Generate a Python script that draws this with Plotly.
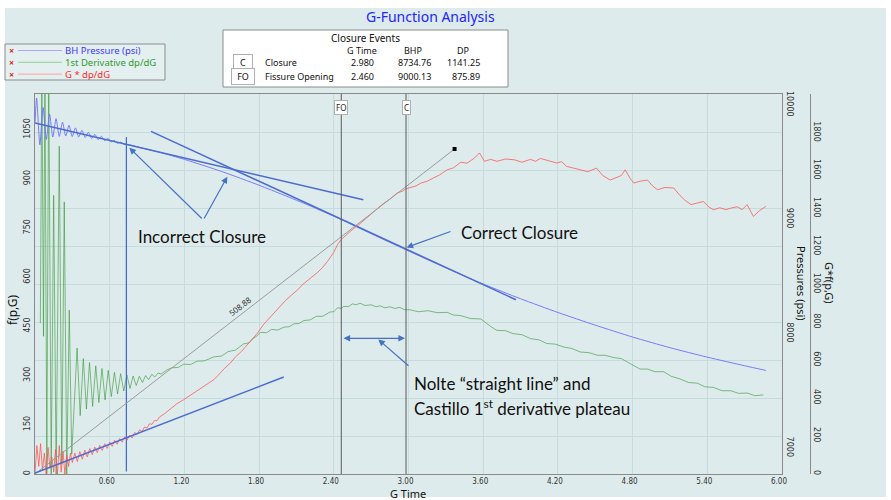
import plotly.graph_objects as go

# ---------------- data ----------------
# BH Pressure (psi) vs G time
bh_g = [0, 0.013, 0.039, 0.065, 0.091, 0.117, 0.143, 0.169, 0.195, 0.221, 0.247, 0.273, 0.299, 0.325,
        0.351, 0.377, 0.403, 0.429, 0.455, 0.481, 0.507, 0.533, 0.559, 0.585, 0.611, 0.637, 0.663, 0.689,
        0.715, 0.741, 0.85, 1.0, 1.2, 1.5, 1.8, 2.0, 2.2, 2.46, 2.7, 2.98, 3.3, 3.6, 3.9, 4.2, 4.5, 4.8,
        5.1, 5.4, 5.7, 5.87]
bh_p = [9847, 10063, 9653, 9979, 9701, 9922, 9722, 9883, 9727, 9851, 9731, 9825, 9726, 9802,
        9722, 9781, 9717, 9763, 9708, 9745, 9699, 9728, 9690, 9710, 9680, 9692, 9668, 9677,
        9658, 9657, 9628, 9588, 9526, 9420, 9300, 9213, 9124, 9000, 8876, 8735, 8577, 8436, 8307, 8187, 8076, 7972,
        7879, 7796, 7721, 7680]

# 1st derivative dp/dG  (left axis f(p,G))
d1_g = [0.043, 0.055, 0.068, 0.080, 0.095, 0.110, 0.130, 0.150, 0.170, 0.195, 0.215, 0.235, 0.255,
        0.275, 0.295,
        0.338, 0.363, 0.388, 0.413, 0.438, 0.463, 0.488, 0.513, 0.538, 0.563, 0.588, 0.613, 0.638, 0.663,
        0.688, 0.713, 0.738, 0.763, 0.788, 0.813, 0.838, 0.863, 0.888, 0.913, 0.938, 0.963, 0.988, 1.013, 1.061,
        1.10, 1.15, 1.194, 1.25, 1.30, 1.36, 1.435, 1.50, 1.55, 1.61, 1.676, 1.72, 1.75, 1.78, 1.81, 1.86,
        1.90, 1.95, 2.00, 2.04, 2.08, 2.12, 2.16, 2.21, 2.26, 2.31, 2.37, 2.40, 2.43, 2.46, 2.48, 2.52,
        2.55, 2.58, 2.61, 2.65, 2.70, 2.74, 2.77, 2.81, 2.85, 2.89, 2.93, 2.97, 3.01, 3.08, 3.16, 3.23,
        3.31, 3.36, 3.42, 3.50, 3.58, 3.62, 3.66, 3.71, 3.78, 3.84, 3.91, 3.98, 4.05, 4.11, 4.18, 4.25,
        4.31, 4.38, 4.45, 4.52, 4.58, 4.65, 4.71, 4.76, 4.81, 4.86, 4.92, 4.98, 5.05, 5.11, 5.18, 5.25,
        5.32, 5.38, 5.45, 5.52, 5.59, 5.65, 5.72, 5.78, 5.85]
d1_v = [460, 1250, 420, 1250, 0, 1250, 0, 850, 0, 1000, 30, 830, 0,
        500, 60,
        384, 178, 352, 198, 340, 206, 330, 218, 322, 226, 316, 236, 310, 244,
        306, 253, 302, 261, 299, 270, 298, 279, 300, 288, 304, 296, 308, 305, 318,
        324, 325, 335, 334, 344, 345, 357, 360, 373, 378, 397, 400, 413, 420, 432, 431,
        441, 439, 448, 449, 458, 459, 468, 470, 481, 481, 494, 495, 507, 505, 511, 511,
        519, 516, 521, 514, 516, 510, 513, 507, 510, 505, 508, 501, 501, 495, 498, 492,
        493, 485, 483, 474, 473, 460, 450, 438, 437, 428, 425, 413, 409, 398, 396, 387,
        383, 372, 370, 362, 362, 355, 352, 341, 330, 320, 320, 312, 312, 298, 290, 279,
        277, 266, 264, 254, 254, 246, 247, 239, 241]

# G * dp/dG  (right axis G*f(p,G))
gd_g = [0.0, 0.015, 0.03, 0.045, 0.06, 0.075, 0.09, 0.105, 0.12, 0.135, 0.15, 0.165, 0.18, 0.195, 0.21,
        0.225, 0.24, 0.255, 0.27, 0.285, 0.30,
        0.32, 0.34, 0.36, 0.38, 0.40, 0.42, 0.44, 0.46, 0.48, 0.50, 0.52, 0.54, 0.56, 0.58, 0.60, 0.62,
        0.64, 0.66, 0.68, 0.70, 0.72, 0.74, 0.76, 0.78, 0.80, 0.82, 0.84, 0.86, 0.88, 0.90, 0.92, 0.94,
        0.96, 0.98, 1.00,
        1.04, 1.07, 1.10, 1.14, 1.194, 1.23, 1.27, 1.31, 1.35, 1.39, 1.435, 1.47, 1.52, 1.57, 1.61, 1.66,
        1.704, 1.75, 1.784, 1.837, 1.88, 1.93, 1.97, 2.01, 2.06, 2.11, 2.15, 2.19, 2.23, 2.27, 2.31, 2.35,
        2.40, 2.43, 2.46, 2.50, 2.55, 2.60, 2.65, 2.70, 2.75, 2.80, 2.85, 2.91, 2.95, 2.98, 3.02, 3.06,
        3.10, 3.15, 3.20, 3.25, 3.31, 3.36, 3.42, 3.47, 3.53, 3.57, 3.61, 3.66, 3.71, 3.78, 3.85, 3.91,
        3.98, 4.02, 4.06, 4.12, 4.19, 4.23, 4.27, 4.32, 4.38, 4.44, 4.51, 4.56, 4.62, 4.67, 4.71, 4.74,
        4.78, 4.81, 4.86, 4.92, 4.96, 5.00, 5.06, 5.13, 5.18, 5.22, 5.27, 5.32, 5.37, 5.41, 5.45, 5.50,
        5.55, 5.59, 5.64, 5.68, 5.72, 5.77, 5.82, 5.87]
gd_v = [5, 150, 40, 160, 20, 110, 0, 140, 30, 90, 10, 130, 0, 150, 10,
        120, 0, 100, 40, 110, 60,
        110, 66, 118, 78, 126, 90, 134, 102, 142, 113, 151, 124, 160, 135, 169, 146,
        178, 157, 187, 168, 196, 179, 205, 190, 219, 209, 233, 225, 248, 243, 265, 262,
        282, 281, 301,
        318, 334, 348, 371, 392, 408, 428, 446, 462, 478, 497, 520, 556, 586, 618, 648,
        680, 712, 741, 790, 822, 855, 886, 914, 944, 972, 1000, 1020, 1042, 1064, 1090, 1122,
        1170, 1210, 1238, 1262, 1290, 1315, 1345, 1372, 1400, 1428, 1450, 1483, 1492, 1505, 1512, 1520,
        1535, 1545, 1562, 1578, 1605, 1615, 1645, 1640, 1667, 1694, 1650, 1660, 1650, 1662, 1658, 1645,
        1660, 1650, 1665, 1652, 1641, 1648, 1623, 1615, 1605, 1595, 1614, 1575, 1551, 1565, 1575, 1605,
        1560, 1535, 1545, 1551, 1520, 1500, 1512, 1509, 1470, 1445, 1421, 1430, 1438, 1410, 1394, 1405,
        1395, 1403, 1410, 1395, 1421, 1359, 1390, 1412]

# closure events table
event_codes = ["C", "FO"]
event_names = ["Closure", "Fissure Opening"]
event_gtime = [2.980, 2.460]
event_bhp = [8734.76, 9000.13]
event_dp = [1141.25, 875.89]

# analysis lines (endpoints)
early_tan_g = [0.0, 2.637]; early_tan_p = [9844, 9173]          # incorrect closure tangent
late_tan_g = [0.932, 3.863]; late_tan_p = [9771, 8298]          # correct closure tangent
early_close_g = [0.734, 0.734]; early_close_p = [9722, 6796]    # incorrect closure marker
gdp_tan_g = [0.0, 1.998]; gdp_tan_v = [5, 512]                  # early G*dp/dG tangent
slope_val = 508.88
gdp_line_g = [0.0, 3.37]; gdp_line_v = [0.0, 508.88 * 3.37]     # straight line through origin

x_ticks = [0.6, 1.2, 1.8, 2.4, 3.0, 3.6, 4.2, 4.8, 5.4, 6.0]
left_ticks = [0, 150, 300, 450, 600, 750, 900, 1050]
press_ticks = [7000, 8000, 9000, 10000]
gf_ticks = [0, 200, 400, 600, 800, 1000, 1200, 1400, 1600, 1800]

# ---------------- layout helpers ----------------
W, H = 891, 500
ML, MR, MT, MB = 35, 61, 94, 26
PW = W - ML - MR            # paper width in px
PH = H - MT - MB            # plot height
XD = 747 / PW               # x-domain end


def px(x):
    return (x - ML) / PW


def py(y):
    return (H - MB - y) / PH


def gx(x):
    return (x - ML) / 124.5


def gy(y):
    return (H - MB - y) / 38.0


NARROW = "Liberation Sans Narrow, DejaVu Sans Condensed, Arial Narrow, sans-serif"
UI = "Noto Sans, DejaVu Sans, sans-serif"
BIG = "Lato, Open Sans, sans-serif"
ARROW = "#4472c4"
TAN = "#4a6bd0"

fig = go.Figure()

# curves
fig.add_trace(go.Scatter(x=gd_g, y=gd_v, yaxis="y3", mode="lines",
                         line=dict(color="rgba(255,80,80,0.75)", width=1)))
fig.add_trace(go.Scatter(x=d1_g, y=d1_v, yaxis="y", mode="lines",
                         line=dict(color="rgba(50,150,50,0.6)", width=1)))
fig.add_trace(go.Scatter(x=bh_g, y=bh_p, yaxis="y2", mode="lines",
                         line=dict(color="rgba(110,110,255,0.9)", width=1, shape="spline", smoothing=0.6)))

# event vertical lines
for g in event_gtime:
    fig.add_trace(go.Scatter(x=[g, g], y=[0, 10], yaxis="y4", mode="lines",
                             line=dict(color="#5a5a5a", width=1)))

# analysis lines
fig.add_trace(go.Scatter(x=gdp_line_g, y=gdp_line_v, yaxis="y3", mode="lines",
                         line=dict(color="#9a9a9a", width=1)))
fig.add_trace(go.Scatter(x=[gdp_line_g[1]], y=[gdp_line_v[1]], yaxis="y3", mode="markers",
                         marker=dict(color="black", size=4, symbol="square")))
fig.add_trace(go.Scatter(x=gdp_tan_g, y=gdp_tan_v, yaxis="y3", mode="lines",
                         line=dict(color=TAN, width=1.5)))
fig.add_trace(go.Scatter(x=early_tan_g, y=early_tan_p, yaxis="y2", mode="lines",
                         line=dict(color=TAN, width=1.5)))
fig.add_trace(go.Scatter(x=late_tan_g, y=late_tan_p, yaxis="y2", mode="lines",
                         line=dict(color=TAN, width=1.5)))
fig.add_trace(go.Scatter(x=early_close_g, y=early_close_p, yaxis="y2", mode="lines",
                         line=dict(color="#3f66d8", width=1.2)))

tickfont = dict(family=NARROW, size=9, color="#333")
fig.update_layout(
    width=W, height=H, showlegend=False,
    margin=dict(l=ML, r=MR, t=MT, b=MB, autoexpand=False),
    paper_bgcolor="white", plot_bgcolor="#f3f9fb",
    xaxis=dict(domain=[0, XD], range=[0, 6], tickvals=x_ticks,
               ticktext=["%.2f" % v for v in x_ticks], tickfont=dict(family=NARROW, size=8, color="#333"),
               ticklabelshift=-3, ticklabelstandoff=-1,
               showgrid=True, gridcolor="#c6dcdc", gridwidth=1, zeroline=False,
               showline=True, linecolor="#8a8a8a", mirror=True, ticks="", automargin=False),
    yaxis=dict(range=[0, 1159], tickvals=left_ticks, ticktext=[str(v) for v in left_ticks],
               tickangle=-90, tickfont=tickfont, automargin=False,
               showgrid=False, zeroline=False, showline=True, linecolor="#8a8a8a", ticks=""),
    yaxis2=dict(overlaying="y", side="right", anchor="x", range=[6774, 10098],
                tickvals=press_ticks, ticktext=[str(v) for v in press_ticks], tickangle=90,
                tickfont=tickfont, automargin=False,
                showgrid=False, zeroline=False, showline=True, linecolor="#8a8a8a", ticks=""),
    yaxis3=dict(overlaying="y", side="right", anchor="free", position=px(809.5),
                range=[0, 2005], tickvals=gf_ticks, ticktext=[str(v) for v in gf_ticks],
                tickangle=90, tickfont=tickfont, automargin=False,
                showgrid=False, zeroline=False, showline=True, linecolor="#8a8a8a", ticks=""),
    yaxis4=dict(overlaying="y", range=[0, 10], dtick=1, showgrid=True, gridcolor="#c6dcdc",
                showticklabels=False, zeroline=False, showline=False, ticks="", automargin=False),
)


def note(x, y, text, font, xanchor="center", **kw):
    d = dict(xref="paper", yref="paper", x=px(x), y=py(y), text=text, showarrow=False,
             xanchor=xanchor, yanchor="middle", font=font)
    d.update(kw)
    return d


shapes = []
annotations = []
# outer panel
shapes.append(dict(type="rect", xref="paper", yref="paper", x0=px(5), x1=px(886), y0=py(497), y1=py(8),
                   fillcolor="#deebec", line=dict(width=0), layer="below"))
# legend box
shapes.append(dict(type="rect", xref="paper", yref="paper", x0=px(5), x1=px(165), y0=py(80), y1=py(44),
                   fillcolor="#e4eff0", line=dict(color="#8c8c8c", width=1)))
legend_items = [("BH Pressure (psi)", "#3a3aff", "#a8a8ff"),
                ("1st Derivative dp/dG", "#2f9a2f", "#93d193"),
                ("G * dp/dG", "#ff2a2a", "#ffa0a0")]
for i, (name, tcol, lcol) in enumerate(legend_items):
    yy = 50.5 + 11.8 * i
    shapes.append(dict(type="line", xref="paper", yref="paper", x0=px(18), x1=px(62), y0=py(yy), y1=py(yy),
                       line=dict(color=lcol, width=1)))
    annotations.append(note(11, yy, "<b>×</b>", dict(family=UI, size=9, color="#e02020"), height=11))
    annotations.append(note(63, yy, name, dict(family=UI, size=9.5, color=tcol), xanchor="left", height=11))
# closure events table
shapes.append(dict(type="rect", xref="paper", yref="paper", x0=px(223), x1=px(508), y0=py(87), y1=py(30),
                   fillcolor="white", line=dict(color="#8c8c8c", width=1)))
tf = dict(family=UI, size=9, color="#111")
annotations.append(note(365, 38, "Closure Events", dict(family=UI, size=10, color="#111")))
for text, xx in [("G Time", 362), ("BHP", 413), ("DP", 463)]:
    annotations.append(note(xx, 50.5, text, tf))
for i in range(len(event_codes)):
    yy = 62.5 + 13.5 * i
    annotations.append(note(243, yy, event_codes[i], tf, bgcolor="white", bordercolor="#b0b0b0",
                            borderwidth=1, borderpad=1, width=16 if event_codes[i] == "C" else 20))
    annotations.append(note(263, yy, event_names[i], tf, xanchor="left"))
    annotations.append(note(362, yy, "%.3f" % event_gtime[i], tf))
    annotations.append(note(414, yy, "%.2f" % event_bhp[i], tf))
    annotations.append(note(482, yy, "%.2f" % event_dp[i], tf, xanchor="right"))
    # event labels on the chart
    annotations.append(dict(xref="x", yref="paper", x=event_gtime[i], y=py(107), text=event_codes[i],
                            showarrow=False, xanchor="center", yanchor="middle",
                            font=dict(family=UI, size=8, color="#222"),
                            bgcolor="white", bordercolor="#b0b0b0", borderwidth=1, borderpad=1))

# title and axis titles
annotations += [
    note(430, 17, "G-Function Analysis", dict(family=UI, size=14, color="#2424ff")),
    note(12, 310, "f(p,G)", dict(family=UI, size=12, color="#111"), textangle=-90),
    note(802, 283, "Pressures (psi)", dict(family=UI, size=11, color="#111"), textangle=90),
    note(830, 283, "G*f(p,G)", dict(family=UI, size=11, color="#111"), textangle=90),
    note(408, 493, "G Time", dict(family=UI, size=11, color="#111")),
    note(239, 306, "%.2f" % slope_val, dict(family=UI, size=8, color="#333"), textangle=-37.7),
]
# commentary text
bigf = dict(family=BIG, size=17, color="#111")
annotations += [
    note(136, 237, "Incorrect Closure", bigf, xanchor="left"),
    note(459, 232, "Correct Closure", bigf, xanchor="left"),
    note(412, 383, "Nolte “straight line” and", bigf, xanchor="left"),
    note(412, 407, "Castillo 1<sup>st</sup> derivative plateau", bigf, xanchor="left"),
]
# arrows (head, tail in pixels)
arrow_list = [((129.3, 147.7), (203.3, 220), "end"),
              ((227.3, 176.7), (203.3, 220), "end"),
              ((406.5, 247.5), (452, 231), "end"),
              ((378.3, 339.5), (410, 367), "end"),
              ((405, 338.3), (342, 338.3), "end+start")]
for (hx, hy), (tx, ty), side in arrow_list:
    annotations.append(dict(xref="x", yref="y4", axref="x", ayref="y4", x=gx(hx), y=gy(hy),
                            ax=gx(tx), ay=gy(ty), text="", showarrow=True, arrowhead=2, arrowsize=1.1,
                            arrowwidth=1.2, arrowcolor=ARROW, arrowside=side))

fig.update_layout(shapes=shapes, annotations=annotations)
fig.write_html("out.html", config={"displayModeBar": False},
               post_script="document.body.style.margin='0px';document.body.style.overflow='hidden';")
